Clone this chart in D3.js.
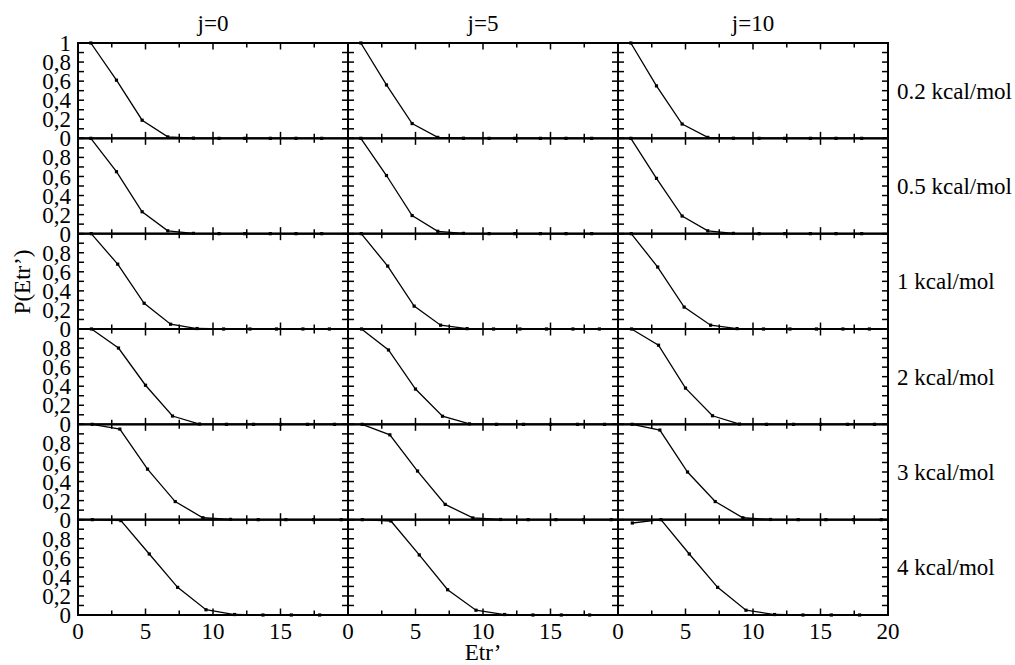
<!DOCTYPE html>
<html>
<head>
<meta charset="utf-8">
<script src="https://cdn.jsdelivr.net/npm/d3@7"></script>
<style>
  body { margin: 0; background: #fff; }
  svg text { font-family: "Liberation Serif", "Times New Roman", serif; font-size: 23px; fill: #000; }
</style>
</head>
<body>
<svg id="chart"></svg>
<script>
// Chart size
const width = 1015;
const height = 665;

// Column and row labels
const columns = ["j=0", "j=5", "j=10"];
const rows = ["0.2 kcal/mol", "0.5 kcal/mol", "1 kcal/mol", "2 kcal/mol", "3 kcal/mol", "4 kcal/mol"];

// Etr' bin centres for each row
const xRow1 = [0.95, 2.85, 4.75, 6.65, 8.55, 10.45, 12.35, 14.25, 16.15, 18.05];
const xRow2 = [0.95, 2.85, 4.75, 6.65, 8.55, 10.45, 12.35, 14.25, 16.15, 18.05];
const xRow3 = [0.98, 2.94, 4.9, 6.86, 8.82, 10.78, 12.74, 14.7, 16.66, 18.62];
const xRow4 = [1, 3, 5, 7, 9, 11, 13, 15, 17, 19];
const xRow5 = [1.05, 3.1, 5.15, 7.2, 9.25, 11.3, 13.35, 15.4, 17.45, 19.5];
const xRow6 = [1.06, 3.18, 5.28, 7.38, 9.48, 11.6, 13.7, 15.8, 17.9];

// P(Etr') values, one array per panel (row, column)
const p02j0 = [1, 0.61, 0.19, 0.015, 0.002, 0, 0, 0, 0, 0];
const p02j5 = [1, 0.56, 0.155, 0.01, 0.001, 0, 0, 0, 0, 0];
const p02j10 = [1, 0.55, 0.15, 0.01, 0.001, 0, 0, 0, 0, 0];
const p05j0 = [1, 0.65, 0.23, 0.03, 0.003, 0, 0, 0, 0, 0];
const p05j5 = [1, 0.61, 0.19, 0.025, 0.003, 0, 0, 0, 0, 0];
const p05j10 = [1, 0.58, 0.185, 0.03, 0.003, 0, 0, 0, 0, 0];
const p1j0 = [1, 0.68, 0.27, 0.05, 0.005, 0, 0, 0, 0, 0];
const p1j5 = [1, 0.66, 0.24, 0.04, 0.004, 0, 0, 0, 0, 0];
const p1j10 = [1, 0.65, 0.23, 0.04, 0.004, 0, 0, 0, 0, 0];
const p2j0 = [1, 0.80, 0.41, 0.087, 0.003, 0, 0, 0, 0, 0];
const p2j5 = [1, 0.78, 0.37, 0.085, 0.005, 0, 0, 0, 0, 0];
const p2j10 = [1, 0.83, 0.38, 0.09, 0.003, 0, 0, 0, 0, 0];
const p3j0 = [1, 0.95, 0.53, 0.19, 0.02, 0.003, 0, 0, 0, 0];
const p3j5 = [1, 0.89, 0.51, 0.16, 0.018, 0.002, 0, 0, 0, 0];
const p3j10 = [1, 0.94, 0.50, 0.19, 0.02, 0.002, 0, 0, 0, 0];
const p4j0 = [1, 0.99, 0.64, 0.29, 0.055, 0.005, 0, 0, 0];
const p4j5 = [1, 0.986, 0.63, 0.265, 0.05, 0.005, 0, 0, 0];
const p4j10 = [0.965, 1, 0.64, 0.29, 0.05, 0.005, 0, 0, 0];

// Axis ticks
const xTicks = [0, 5, 10, 15, 20];
const xMinorTicks = [2.5, 7.5, 12.5, 17.5];
const yTicks = [0, 0.2, 0.4, 0.6, 0.8, 1];
const yMinorTicks = [0.1, 0.3, 0.5, 0.7, 0.9];

const xByRow = [xRow1, xRow2, xRow3, xRow4, xRow5, xRow6];
const panels = [
    [p02j0, p02j5, p02j10],
    [p05j0, p05j5, p05j10],
    [p1j0, p1j5, p1j10],
    [p2j0, p2j5, p2j10],
    [p3j0, p3j5, p3j10],
    [p4j0, p4j5, p4j10]
];

// Grid layout
const gridLeft = 78, gridTop = 43;
const colW = 270, rowH = 572 / 6;

const svg = d3.select("#chart")
    .attr("width", width)
    .attr("height", height);

const x = d3.scaleLinear().domain([0, 20]).range([0, colW]);
const y = d3.scaleLinear().domain([0, 1]).range([rowH, 0]);
const fmt = d => d === 0 || d === 1 ? String(d) : d3.format(".1f")(d).replace(".", ",");

const line = d3.line()
    .x(d => x(d[0]))
    .y(d => y(d[1]));

panels.forEach((row, r) => {
    row.forEach((vals, c) => {
        const g = svg.append("g")
            .attr("transform", `translate(${gridLeft + c * colW},${gridTop + r * rowH})`);

        const pts = vals.map((v, i) => [xByRow[r][i], v]);

        g.append("path")
            .datum(pts)
            .attr("d", line)
            .attr("fill", "none")
            .attr("stroke", "#000")
            .attr("stroke-width", 1.3);

        g.selectAll("rect.pt")
            .data(pts)
            .enter()
            .append("rect")
            .attr("class", "pt")
            .attr("x", d => x(d[0]) - 1.6)
            .attr("y", d => y(d[1]) - 1.6)
            .attr("width", 3.2)
            .attr("height", 3.2)
            .attr("fill", "#000");

        // Inward ticks on all four sides
        const ticks = g.append("g").attr("stroke", "#000").attr("stroke-width", 1.5);
        xTicks.concat(xMinorTicks).forEach(t => {
            const len = xTicks.includes(t) ? 6.5 : 4.5;
            ticks.append("line").attr("x1", x(t)).attr("x2", x(t)).attr("y1", rowH).attr("y2", rowH - len);
            ticks.append("line").attr("x1", x(t)).attr("x2", x(t)).attr("y1", 0).attr("y2", len);
        });
        yTicks.concat(yMinorTicks).forEach(t => {
            ticks.append("line").attr("x1", 0).attr("x2", 6).attr("y1", y(t)).attr("y2", y(t));
            ticks.append("line").attr("x1", colW).attr("x2", colW - 6).attr("y1", y(t)).attr("y2", y(t));
        });

        g.append("rect")
            .attr("width", colW)
            .attr("height", rowH)
            .attr("fill", "none")
            .attr("stroke", "#000")
            .attr("stroke-width", 2);

        // Y tick labels on first column
        if (c === 0) {
            g.selectAll("text.yl")
                .data(r === 0 ? yTicks : yTicks.slice(0, 5))
                .enter()
                .append("text")
                .attr("x", -7)
                .attr("y", d => y(d))
                .attr("dy", "0.35em")
                .attr("text-anchor", "end")
                .text(fmt);
        }

        // X tick labels on bottom row
        if (r === panels.length - 1) {
            g.selectAll("text.xl")
                .data(c === columns.length - 1 ? xTicks : xTicks.slice(0, 4))
                .enter()
                .append("text")
                .attr("x", d => x(d))
                .attr("y", rowH + 24)
                .attr("text-anchor", "middle")
                .text(d => d);
        }
    });
});

// Column titles
svg.selectAll("text.col")
    .data(columns)
    .enter()
    .append("text")
    .attr("x", (d, i) => gridLeft + i * colW + colW / 2)
    .attr("y", 31)
    .attr("text-anchor", "middle")
    .text(d => d);

// Row labels
svg.selectAll("text.row")
    .data(rows)
    .enter()
    .append("text")
    .attr("x", gridLeft + 3 * colW + 9)
    .attr("y", (d, i) => gridTop + i * rowH + rowH / 2)
    .attr("dy", "0.35em")
    .text(d => d);

// Axis titles
svg.append("text")
    .attr("x", gridLeft + colW * 1.5)
    .attr("y", 660)
    .attr("text-anchor", "middle")
    .text("Etr’");

svg.append("text")
    .attr("transform", "translate(30,282) rotate(-90)")
    .attr("text-anchor", "middle")
    .text("P(Etr’)");
</script>
</body>
</html>
